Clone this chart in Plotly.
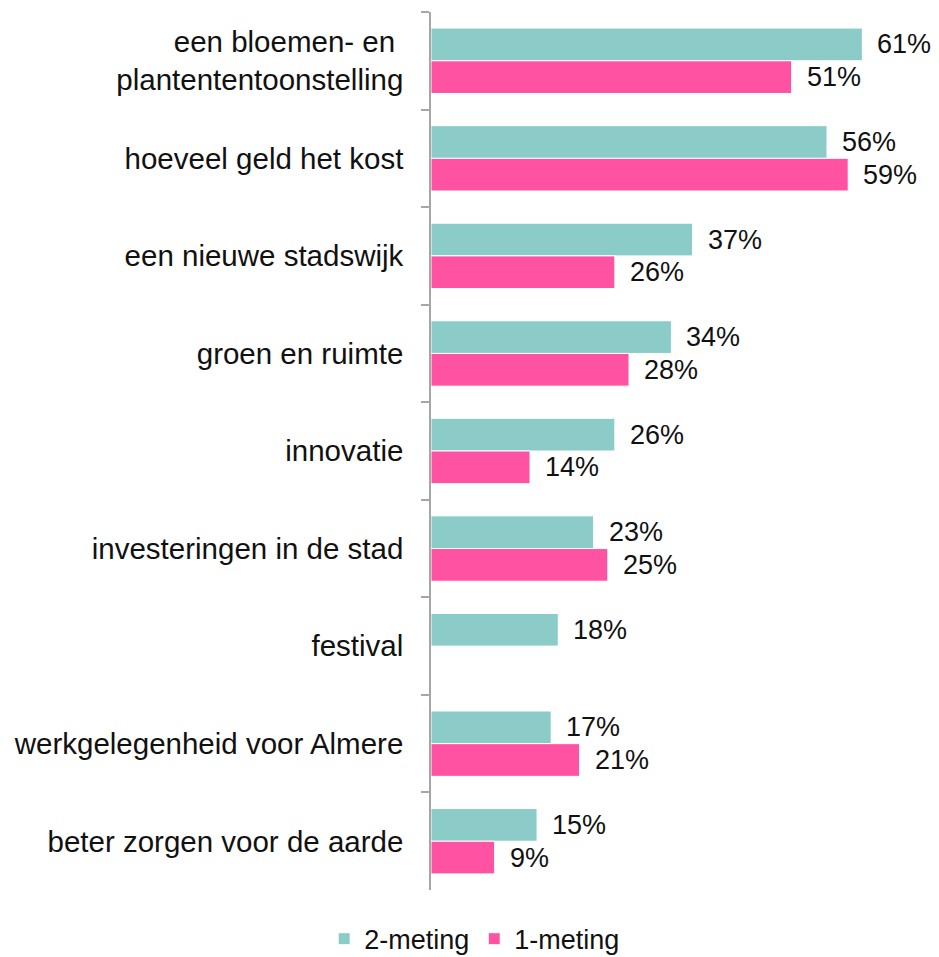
import plotly.graph_objects as go

categorieen = [
    "een bloemen- en <br>plantententoonstelling",
    "hoeveel geld het kost",
    "een nieuwe stadswijk",
    "groen en ruimte",
    "innovatie",
    "investeringen in de stad",
    "festival",
    "werkgelegenheid voor Almere",
    "beter zorgen voor de aarde",
]
meting_2 = [61, 56, 37, 34, 26, 23, 18, 17, 15]
meting_1 = [51, 59, 26, 28, 14, 25, None, 21, 9]

TEAL = "#8BCCC8"
ROZE = "#FF52A2"
FONT = "Liberation Sans, Arial, sans-serif"
FS = 27

fig = go.Figure()
fig.add_trace(go.Bar(
    name="2-meting", y=categorieen, x=meting_2, orientation="h",
    marker=dict(color=TEAL, line=dict(color="white", width=1)),
))
fig.add_trace(go.Bar(
    name="1-meting", y=categorieen, x=meting_1, orientation="h",
    marker=dict(color=ROZE, line=dict(color="white", width=1)),
))

# labels naast de balken
for i, (cat, v2, v1) in enumerate(zip(categorieen, meting_2, meting_1)):
    fig.add_annotation(x=v2, y=i - 0.167, text=f"{v2}%", showarrow=False,
                       xanchor="left", xshift=13,
                       font=dict(size=FS, color="#111111", family=FONT))
    if v1 is not None:
        fig.add_annotation(x=v1, y=i + 0.167, text=f"{v1}%", showarrow=False,
                           xanchor="left", xshift=13,
                           font=dict(size=FS, color="#111111", family=FONT))

fig.update_layout(
    width=939, height=957,
    margin=dict(l=423, r=21, t=4, b=75),
    barmode="group", bargap=0.33, bargroupgap=0,
    plot_bgcolor="white", paper_bgcolor="white",
    font=dict(family=FONT, size=FS, color="#111111"),
    showlegend=True,
    legend=dict(orientation="h", xref="container", yref="container",
                x=0.497, xanchor="center", y=0.027, yanchor="middle",
                font=dict(size=FS), itemwidth=30, traceorder="normal"),
    xaxis=dict(range=[0, 70], visible=False),
    yaxis=dict(autorange="reversed", showline=True, linecolor="#A6A6A6", linewidth=1.5,
               ticks="outside", tickson="boundaries", ticklen=8, tickcolor="#A6A6A6",
               tickwidth=1.5, ticklabelstandoff=20, showgrid=False,
               tickfont=dict(size=29.5, family=FONT, color="#111111")),
)

fig.write_html("out.html")
